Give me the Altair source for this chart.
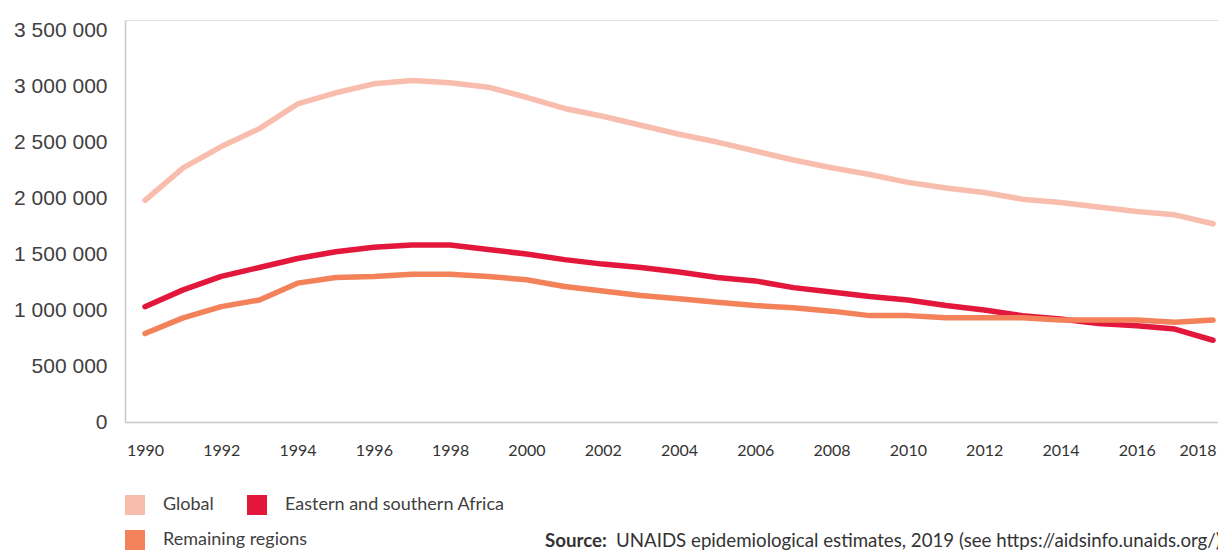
import altair as alt
import pandas as pd

years = list(range(1990, 2019))
global_vals = [1980000, 2270000, 2460000, 2620000, 2840000, 2940000, 3020000, 3050000, 3030000, 2990000,
               2900000, 2800000, 2730000, 2650000, 2570000, 2500000, 2420000, 2340000, 2270000, 2210000,
               2140000, 2090000, 2050000, 1990000, 1960000, 1920000, 1880000, 1850000, 1770000]
esa_vals = [1030000, 1180000, 1300000, 1380000, 1460000, 1520000, 1560000, 1580000, 1580000, 1540000,
            1500000, 1450000, 1410000, 1380000, 1340000, 1290000, 1260000, 1200000, 1160000, 1120000,
            1090000, 1040000, 1000000, 950000, 920000, 880000, 860000, 830000, 730000]
rest_vals = [790000, 930000, 1030000, 1090000, 1240000, 1290000, 1300000, 1320000, 1320000, 1300000,
             1270000, 1210000, 1170000, 1130000, 1100000, 1070000, 1040000, 1020000, 990000, 950000,
             950000, 930000, 930000, 930000, 910000, 910000, 910000, 890000, 910000]
series_names = ["Global", "Eastern and southern Africa", "Remaining regions"]
series_colors = ["#F9BDAE", "#E3173B", "#F3825A"]
y_ticks = [0, 500000, 1000000, 1500000, 2000000, 2500000, 3000000, 3500000]
x_ticks = list(range(1990, 2019, 2))
source_bold = "Source:"
source_rest = "UNAIDS epidemiological estimates, 2019 (see https://aidsinfo.unaids.org/)"

rows = []
for name, vals in zip(series_names, [global_vals, esa_vals, rest_vals]):
    for yr, v in zip(years, vals):
        rows.append({"year": yr, "value": v, "series": name, "order": series_names.index(name)})
df = pd.DataFrame(rows)

y_label_expr = "replace(format(datum.value, ',d'), /,/g, ' ')"

legend_common = dict(title=None, orient="none", direction="horizontal", symbolType="square",
                     labelFont="Lato", labelFontSize=18, labelColor="#404040", labelOffset=18,
                     columnPadding=6, labelLimit=0, symbolOpacity=1)

lines = alt.Chart(df).mark_line(strokeWidth=5.5, strokeCap="round", strokeJoin="round").encode(
    x=alt.X("year:Q", scale=alt.Scale(domain=[1989.476, 2018.13], nice=False, zero=False),
            axis=alt.Axis(values=x_ticks, format="d", title=None, grid=False, ticks=False,
                          domainColor="#C8C8C8", domainWidth=1.5, labelFont="Lato",
                          labelFontSize=16, labelColor="#333333", labelPadding=20,
                          labelFlush=8, labelFlushOffset=3)),
    y=alt.Y("value:Q", scale=alt.Scale(domain=[0, 3590000], nice=False),
            axis=alt.Axis(values=y_ticks, labelExpr=y_label_expr, title=None, grid=False, ticks=False,
                          domainColor="#C8C8C8", domainWidth=1.5, labelFont="Liberation Sans",
                          labelFontSize=21, labelColor="#404040", labelPadding=18)),
    color=alt.Color("series:N", scale=alt.Scale(domain=series_names, range=series_colors),
                    legend=alt.Legend(values=series_names[:2], legendX=0, legendY=475,
                                      symbolSize=4, symbolStrokeWidth=18, **legend_common)),
    order=alt.Order("order:Q"),
)

legend2_df = pd.DataFrame({"series2": series_names[2:]})
legend2 = alt.Chart(legend2_df).mark_square(size=0, opacity=0).encode(
    fill=alt.Fill("series2:N", scale=alt.Scale(domain=series_names[2:], range=series_colors[2:]),
                  legend=alt.Legend(legendX=0, legendY=510, symbolSize=400, symbolStrokeWidth=0,
                                    **legend_common)),
    x=alt.value(0), y=alt.value(0),
)

src_bold = alt.Chart(pd.DataFrame({"t": [source_bold]})).mark_text(
    align="left", baseline="alphabetic", font="Lato", fontSize=18.7, fontWeight="bold", color="#333333"
).encode(text="t:N", x=alt.value(420), y=alt.value(527))

src_rest = alt.Chart(pd.DataFrame({"t": [source_rest]})).mark_text(
    align="left", baseline="alphabetic", font="Lato", fontSize=18.7, color="#333333"
).encode(text="t:N", x=alt.value(491), y=alt.value(527))

chart = alt.layer(lines, legend2, src_bold, src_rest).resolve_scale(color="independent").properties(
    width=1093, height=402,
    autosize=alt.AutoSizeParams(type="none"),
    padding={"left": 117, "top": 12, "right": 0, "bottom": 128},
).configure_view(stroke=None).configure(background="white")

chart.save("out.html", embed_options={"renderer": "svg", "actions": False})
